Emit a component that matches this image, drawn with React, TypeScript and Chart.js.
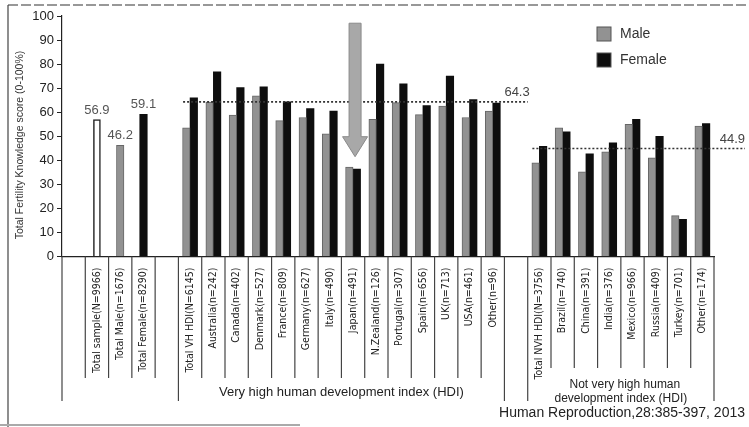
import React, { useEffect, useRef } from 'react';
import { Chart, registerables } from 'chart.js';
Chart.register(...registerables);

const categories = [
  '',
  'Total sample(N=9966)',
  'Total Male(n=1676)',
  'Total Female(n=8290)',
  '',
  'Total VH HDI(N=6145)',
  'Australia(n=242)',
  'Canada(n=402)',
  'Denmark(n=527)',
  'France(n=809)',
  'Germany(n=627)',
  'Italy(n=490)',
  'Japan(n=491)',
  'N.Zealand(n=126)',
  'Portugal(n=307)',
  'Spain(n=656)',
  'UK(n=713)',
  'USA(n=461)',
  'Other(n=96)',
  '',
  'Total NVH HDI(N=3756)',
  'Brazil(n=740)',
  'China(n=391)',
  'India(n=376)',
  'Mexico(n=966)',
  'Russia(n=409)',
  'Turkey(n=701)',
  'Other(n=174)',
];

const totalValues = [null, 56.9, null, null, null, null, null, null, null, null, null, null, null, null, null, null, null, null, null, null, null, null, null, null, null, null, null, null];
const maleValues = [null, null, 46.2, null, null, 53.5, 64.2, 58.8, 66.8, 56.5, 57.8, 51.0, 37.2, 57.0, 64.0, 59.0, 62.5, 57.8, 60.5, null, 39.0, 53.5, 35.2, 43.5, 55.0, 41.0, 17.0, 54.2];
const femaleValues = [null, null, null, 59.1, null, 66.0, 76.8, 70.2, 70.5, 64.3, 61.5, 60.5, 36.3, 80.0, 71.8, 62.8, 75.0, 65.2, 63.8, null, 45.8, 51.8, 42.7, 47.3, 57.0, 50.0, 15.5, 55.3];

const labelledSlots = [1, 2, 3];
const vhMean = 64.3;
const nvhMean = 44.9;
const arrowSlot = 12;
const arrowFrom = 97;
const arrowTo = 41.5;

const yTitle = 'Total Fertility Knowledge score (0-100%)';
const vhGroupLabel = 'Very high human development index (HDI)';
const nvhGroupLabel = ['Not very high human', 'development index (HDI)'];
const citation = 'Human Reproduction,28:385-397, 2013';
const legendLabels = ['Male', 'Female'];

const FONT = '"Liberation Sans", Arial, sans-serif';
const NARROW = '"Liberation Sans Narrow", "DejaVu Sans Condensed", "Liberation Sans", sans-serif';
const MALE = '#929292';
const FEMALE = '#0e0e0e';

export default function App() {
  const ref = useRef<HTMLCanvasElement>(null);

  useEffect(() => {
    const canvas = ref.current!;

    const overlay = {
      id: 'overlay',
      beforeDraw(chart: any) {
        const ctx = chart.ctx;
        ctx.save();
        ctx.fillStyle = '#fff';
        ctx.fillRect(0, 0, chart.width, chart.height);
        // page frame
        ctx.strokeStyle = '#777';
        ctx.lineWidth = 1.5;
        ctx.setLineDash([10, 3]);
        ctx.beginPath();
        ctx.moveTo(8, 5);
        ctx.lineTo(chart.width, 5);
        ctx.stroke();
        ctx.setLineDash([]);
        ctx.strokeStyle = '#444';
        ctx.lineWidth = 1.2;
        ctx.beginPath();
        ctx.moveTo(8, 5);
        ctx.lineTo(8, chart.height);
        ctx.stroke();
        ctx.strokeStyle = '#aaa';
        ctx.lineWidth = 2;
        ctx.beginPath();
        ctx.moveTo(0, chart.height - 2);
        ctx.lineTo(300, chart.height - 2);
        ctx.stroke();
        ctx.restore();
      },
      afterDatasetsDraw(chart: any) {
        const ctx = chart.ctx;
        const xs = chart.scales.x;
        const ys = chart.scales.y;
        const w = xs.getPixelForValue(1) - xs.getPixelForValue(0);
        const edge = (k: number) => xs.getPixelForValue(0) - w / 2 + k * w;
        ctx.save();

        // value labels over totals
        ctx.font = `13px ${FONT}`;
        ctx.fillStyle = '#555';
        ctx.textAlign = 'center';
        ctx.textBaseline = 'bottom';
        chart.data.datasets.forEach((ds: any, di: number) => {
          const meta = chart.getDatasetMeta(di);
          labelledSlots.forEach((i) => {
            const v = ds.data[i];
            if (v === null || v === undefined) return;
            const el = meta.data[i];
            ctx.fillText(v.toFixed(1), el.x, el.y - 3);
          });
        });

        // dotted mean lines
        ctx.strokeStyle = '#333';
        ctx.lineWidth = 1.6;
        ctx.setLineDash([2, 2]);
        const y1 = ys.getPixelForValue(vhMean);
        const x1a = xs.getPixelForValue(5) - 0.3 * w;
        const x1b = edge(19) + w;
        ctx.beginPath();
        ctx.moveTo(x1a, y1);
        ctx.lineTo(x1b, y1);
        ctx.stroke();
        const y2 = ys.getPixelForValue(nvhMean);
        const x2a = xs.getPixelForValue(20) - 0.3 * w;
        const x2b = chart.width - 4;
        ctx.beginPath();
        ctx.moveTo(x2a, y2);
        ctx.lineTo(x2b, y2);
        ctx.stroke();
        ctx.setLineDash([]);
        ctx.font = `13px ${FONT}`;
        ctx.fillStyle = '#444';
        ctx.textAlign = 'right';
        ctx.textBaseline = 'bottom';
        ctx.fillText(vhMean.toFixed(1), x1b + 2, y1 - 3);
        ctx.fillText(nvhMean.toFixed(1), x2b, y2 - 3);

        // arrow to Japan
        const ax = xs.getPixelForValue(arrowSlot) + 2;
        const aTop = ys.getPixelForValue(arrowFrom);
        const aTip = ys.getPixelForValue(arrowTo);
        const headH = 20;
        ctx.beginPath();
        ctx.moveTo(ax - 6, aTop);
        ctx.lineTo(ax + 6, aTop);
        ctx.lineTo(ax + 6, aTip - headH);
        ctx.lineTo(ax + 12.5, aTip - headH);
        ctx.lineTo(ax, aTip);
        ctx.lineTo(ax - 12.5, aTip - headH);
        ctx.lineTo(ax - 6, aTip - headH);
        ctx.closePath();
        ctx.fillStyle = '#a8a8a8';
        ctx.fill();
        ctx.strokeStyle = '#8a8a8a';
        ctx.lineWidth = 1;
        ctx.stroke();
        ctx.restore();
      },
      afterDraw(chart: any) {
        const ctx = chart.ctx;
        const xs = chart.scales.x;
        const w = xs.getPixelForValue(1) - xs.getPixelForValue(0);
        const edge = (k: number) => xs.getPixelForValue(0) - w / 2 + k * w;
        const base = chart.chartArea.bottom;
        ctx.save();

        // y axis title
        ctx.save();
        ctx.translate(20, 145);
        ctx.rotate(-Math.PI / 2);
        ctx.font = `10.5px ${FONT}`;
        ctx.fillStyle = '#333';
        ctx.textAlign = 'center';
        ctx.textBaseline = 'middle';
        ctx.fillText(yTitle, 0, 0);
        ctx.restore();

        ctx.strokeStyle = '#444';
        ctx.lineWidth = 1.2;
        const groupBorders = [0, 5, 19, 20, 28];
        for (let k = 0; k <= categories.length; k++) {
          let end = 378;
          if (groupBorders.includes(k)) end = 401;
          else if (k > 20) end = 368;
          const x = edge(k);
          ctx.beginPath();
          ctx.moveTo(x, base);
          ctx.lineTo(x, end);
          ctx.stroke();
        }
        ctx.fillStyle = '#222';
        ctx.textAlign = 'center';
        ctx.textBaseline = 'middle';
        ctx.font = `13px ${FONT}`;
        ctx.fillText(vhGroupLabel, (edge(5) + edge(19)) / 2, 392);
        ctx.font = `12px ${FONT}`;
        const nx = (edge(20) + edge(28)) / 2;
        ctx.fillText(nvhGroupLabel[0], nx + 4, 385);
        ctx.fillText(nvhGroupLabel[1], nx, 399);
        ctx.font = `14px ${FONT}`;
        ctx.textAlign = 'right';
        ctx.fillText(citation, 745, 413);

        // legend
        const colors = [MALE, FEMALE];
        legendLabels.forEach((lab, i) => {
          const top = 27 + i * 26;
          ctx.fillStyle = colors[i];
          ctx.fillRect(597, top, 14, 14);
          ctx.strokeStyle = '#555';
          ctx.lineWidth = 1;
          ctx.strokeRect(597, top, 14, 14);
          ctx.fillStyle = '#333';
          ctx.textAlign = 'left';
          ctx.font = `14px ${FONT}`;
          ctx.fillText(lab, 620, top + 7);
        });
        ctx.restore();
      },
    };

    const chart = new Chart(canvas, {
      type: 'bar',
      data: {
        labels: categories,
        datasets: [
          {
            label: 'Total',
            data: totalValues,
            backgroundColor: '#ffffff',
            borderColor: '#222',
            borderWidth: 1.5,
            barThickness: 7,
          },
          {
            label: 'Male',
            data: maleValues,
            backgroundColor: MALE,
            borderColor: '#666',
            borderWidth: 1,
            barThickness: 7.5,
          },
          {
            label: 'Female',
            data: femaleValues,
            backgroundColor: FEMALE,
            borderColor: FEMALE,
            borderWidth: 0,
            barThickness: 7.5,
          },
        ] as any,
      },
      options: {
        responsive: false,
        animation: false,
        skipNull: true,
        layout: { padding: { top: 16, right: 35, left: 0, bottom: 0 } },
        plugins: { legend: { display: false }, tooltip: { enabled: false } },
        scales: {
          x: {
            grid: { display: false },
            border: { display: true, color: '#222', width: 1.2 },
            ticks: {
              autoSkip: false,
              maxRotation: 90,
              minRotation: 90,
              padding: 3,
              color: '#222',
              font: { family: NARROW, size: 10.5 },
            },
            afterFit(s: any) {
              s.height = 170.5;
            },
          },
          y: {
            min: 0,
            max: 100,
            ticks: {
              stepSize: 10,
              color: '#222',
              padding: 3,
              font: { family: FONT, size: 13 },
            },
            grid: { drawOnChartArea: false, drawTicks: true, tickLength: 5, color: '#222' },
            border: { display: true, color: '#222', width: 1.2 },
            title: { display: false },
            afterFit(s: any) {
              s.width = 62;
            },
          },
        },
      } as any,
      plugins: [overlay],
    });
    return () => chart.destroy();
  }, []);

  return (
    <div style={{ position: 'absolute', left: 0, top: 0, width: 749, height: 427, background: '#fff' }}>
      <canvas ref={ref} width={749} height={427} style={{ width: 749, height: 427, display: 'block' }} />
    </div>
  );
}
